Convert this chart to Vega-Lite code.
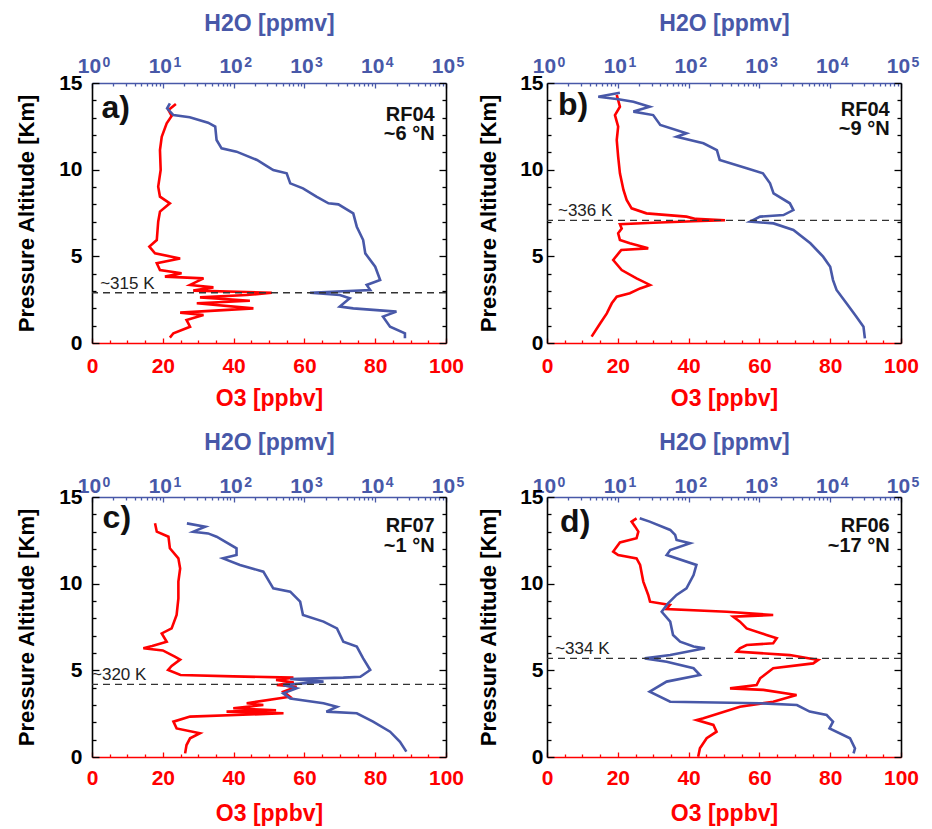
{
  "$schema": "https://vega.github.io/schema/vega-lite/v6.json",
  "autosize": {"type": "none"},
  "padding": {"left": 92, "top": 83, "right": 840, "bottom": 746},
  "background": "white",
  "config": {
    "view": {"stroke": null},
    "font": "Liberation Sans",
    "axis": {"grid": false, "domainWidth": 1.6, "tickWidth": 1.3, "labelFont": "Liberation Sans", "labelFontSize": 21, "labelFontWeight": "bold", "titleFont": "Liberation Sans", "titleFontSize": 23, "titleFontWeight": "bold", "labelFlush": false, "labelOverlap": false, "titleBaseline": "middle"},
    "axisBottom": {"domainColor": "#ff0000", "tickColor": "#ff0000", "labelColor": "#ff0000", "titleColor": "#ff0000"},
    "axisTop": {"domainColor": "#4858a8", "tickColor": "#4858a8", "labelColor": "#4858a8", "titleColor": "#4858a8"},
    "axisLeft": {"domainColor": "#000000", "tickColor": "#000000", "labelColor": "#000000", "titleColor": "#000000", "titleFontSize": 22},
    "axisRight": {"domainColor": "#000000", "tickColor": "#000000"}
  },
  "bounds": "flush",
  "columns": 2,
  "spacing": {"row": 154, "column": 101},
  "datasets": {
    "a": [
      {"s":"O3","alt":13.79,"v":23.7},{"s":"O3","alt":13.44,"v":21.6},{"s":"O3","alt":13.10,"v":22.5},{"s":"O3","alt":12.67,"v":21.1},{"s":"O3","alt":11.90,"v":19.7},{"s":"O3","alt":11.13,"v":19.2},{"s":"O3","alt":9.98,"v":19.4},{"s":"O3","alt":9.02,"v":18.7},{"s":"O3","alt":8.44,"v":19.2},{"s":"O3","alt":8.06,"v":22.0},{"s":"O3","alt":7.58,"v":19.2},{"s":"O3","alt":7.00,"v":18.7},{"s":"O3","alt":5.94,"v":18.3},{"s":"O3","alt":5.56,"v":16.2},{"s":"O3","alt":5.17,"v":17.8},{"s":"O3","alt":4.88,"v":24.9},{"s":"O3","alt":4.60,"v":18.3},{"s":"O3","alt":4.21,"v":19.2},{"s":"O3","alt":4.02,"v":25.3},{"s":"O3","alt":3.83,"v":20.6},{"s":"O3","alt":3.73,"v":31.5},{"s":"O3","alt":3.35,"v":27.7},{"s":"O3","alt":3.21,"v":34.3},{"s":"O3","alt":3.02,"v":28.6},{"s":"O3","alt":2.90,"v":50.8},{"s":"O3","alt":2.77,"v":43.7},{"s":"O3","alt":2.63,"v":30.5},{"s":"O3","alt":2.44,"v":44.6},{"s":"O3","alt":2.29,"v":29.6},{"s":"O3","alt":2.00,"v":45.6},{"s":"O3","alt":1.75,"v":24.9},{"s":"O3","alt":1.62,"v":31.5},{"s":"O3","alt":1.33,"v":26.7},{"s":"O3","alt":0.94,"v":27.7},{"s":"O3","alt":0.56,"v":23.0},{"s":"O3","alt":0.31,"v":22.0},
      {"s":"H2O","alt":13.83,"v":12.6},{"s":"H2O","alt":13.54,"v":11.5},{"s":"H2O","alt":13.15,"v":14.1},{"s":"H2O","alt":13.02,"v":24},{"s":"H2O","alt":12.71,"v":43.6},{"s":"H2O","alt":12.48,"v":55},{"s":"H2O","alt":11.71,"v":57.5},{"s":"H2O","alt":11.23,"v":67.6},{"s":"H2O","alt":11.04,"v":110},{"s":"H2O","alt":10.56,"v":214},{"s":"H2O","alt":10.21,"v":295},{"s":"H2O","alt":9.98,"v":363},{"s":"H2O","alt":9.79,"v":562},{"s":"H2O","alt":9.21,"v":631},{"s":"H2O","alt":8.92,"v":955},{"s":"H2O","alt":8.44,"v":1479},{"s":"H2O","alt":8.06,"v":2188},{"s":"H2O","alt":8.0,"v":3020},{"s":"H2O","alt":7.48,"v":4898},{"s":"H2O","alt":6.71,"v":5495},{"s":"H2O","alt":5.94,"v":6761},{"s":"H2O","alt":5.17,"v":7244},{"s":"H2O","alt":4.40,"v":10000},{"s":"H2O","alt":3.63,"v":11750},{"s":"H2O","alt":3.35,"v":7586},{"s":"H2O","alt":3.06,"v":8511},{"s":"H2O","alt":2.90,"v":1202},{"s":"H2O","alt":2.77,"v":3162},{"s":"H2O","alt":2.58,"v":4365},{"s":"H2O","alt":2.10,"v":3162},{"s":"H2O","alt":2.00,"v":4898},{"s":"H2O","alt":1.81,"v":19950},{"s":"H2O","alt":1.52,"v":12880},{"s":"H2O","alt":0.94,"v":16220},{"s":"H2O","alt":0.56,"v":26300},{"s":"H2O","alt":0.27,"v":26300}
    ],
    "b": [
      {"s":"O3","alt":14.31,"v":19.7},{"s":"O3","alt":13.63,"v":20.6},{"s":"O3","alt":13.15,"v":19.2},{"s":"O3","alt":12.48,"v":20.1},{"s":"O3","alt":11.71,"v":19.7},{"s":"O3","alt":10.75,"v":20.1},{"s":"O3","alt":9.79,"v":20.6},{"s":"O3","alt":8.83,"v":21.6},{"s":"O3","alt":8.25,"v":22.5},{"s":"O3","alt":7.77,"v":23.9},{"s":"O3","alt":7.48,"v":28.1},{"s":"O3","alt":7.29,"v":39.4},{"s":"O3","alt":7.16,"v":42},{"s":"O3","alt":7.08,"v":50.3},{"s":"O3","alt":7.02,"v":41.3},{"s":"O3","alt":6.94,"v":30},{"s":"O3","alt":6.85,"v":20.6},{"s":"O3","alt":6.60,"v":21.1},{"s":"O3","alt":6.33,"v":20.1},{"s":"O3","alt":5.94,"v":20.6},{"s":"O3","alt":5.75,"v":23.4},{"s":"O3","alt":5.46,"v":28.6},{"s":"O3","alt":5.37,"v":21},{"s":"O3","alt":5.27,"v":20.6},{"s":"O3","alt":4.79,"v":18.7},{"s":"O3","alt":4.21,"v":21.1},{"s":"O3","alt":3.73,"v":25.3},{"s":"O3","alt":3.35,"v":29.1},{"s":"O3","alt":3.15,"v":26.3},{"s":"O3","alt":2.87,"v":23.4},{"s":"O3","alt":2.67,"v":19.7},{"s":"O3","alt":2.29,"v":18.3},{"s":"O3","alt":1.71,"v":16.9},{"s":"O3","alt":1.13,"v":15.0},{"s":"O3","alt":0.37,"v":12.6},
      {"s":"H2O","alt":14.44,"v":10.7},{"s":"H2O","alt":14.21,"v":5.3},{"s":"H2O","alt":14.06,"v":10.2},{"s":"H2O","alt":13.92,"v":16.6},{"s":"H2O","alt":13.63,"v":28.2},{"s":"H2O","alt":13.35,"v":16.6},{"s":"H2O","alt":13.15,"v":31.6},{"s":"H2O","alt":12.58,"v":39.8},{"s":"H2O","alt":12.10,"v":93.3},{"s":"H2O","alt":11.90,"v":67.6},{"s":"H2O","alt":11.52,"v":162},{"s":"H2O","alt":11.13,"v":251},{"s":"H2O","alt":10.56,"v":275},{"s":"H2O","alt":10.08,"v":661},{"s":"H2O","alt":9.79,"v":1122},{"s":"H2O","alt":9.21,"v":1413},{"s":"H2O","alt":8.63,"v":1585},{"s":"H2O","alt":8.06,"v":2692},{"s":"H2O","alt":7.67,"v":3020},{"s":"H2O","alt":7.38,"v":2188},{"s":"H2O","alt":7.29,"v":1023},{"s":"H2O","alt":7.0,"v":741},{"s":"H2O","alt":6.90,"v":1585},{"s":"H2O","alt":6.52,"v":3020},{"s":"H2O","alt":5.75,"v":5248},{"s":"H2O","alt":4.98,"v":7943},{"s":"H2O","alt":4.40,"v":10000},{"s":"H2O","alt":3.63,"v":10960},{"s":"H2O","alt":3.06,"v":12300},{"s":"H2O","alt":2.29,"v":16980},{"s":"H2O","alt":1.52,"v":23440},{"s":"H2O","alt":0.94,"v":29510},{"s":"H2O","alt":0.27,"v":30900}
    ],
    "c": [
      {"s":"O3","alt":13.48,"v":17.8},{"s":"O3","alt":13.0,"v":18.3},{"s":"O3","alt":12.71,"v":21.6},{"s":"O3","alt":12.04,"v":22.0},{"s":"O3","alt":11.46,"v":24.4},{"s":"O3","alt":10.88,"v":24.9},{"s":"O3","alt":10.12,"v":24.4},{"s":"O3","alt":9.15,"v":24.4},{"s":"O3","alt":8.19,"v":23.9},{"s":"O3","alt":7.42,"v":22.5},{"s":"O3","alt":7.13,"v":19.7},{"s":"O3","alt":6.65,"v":21.1},{"s":"O3","alt":6.40,"v":17},{"s":"O3","alt":6.27,"v":14.5},{"s":"O3","alt":6.15,"v":20},{"s":"O3","alt":5.79,"v":23.4},{"s":"O3","alt":5.62,"v":24.9},{"s":"O3","alt":5.25,"v":22.5},{"s":"O3","alt":5.02,"v":21.5},{"s":"O3","alt":4.73,"v":25},{"s":"O3","alt":4.65,"v":40},{"s":"O3","alt":4.58,"v":56.9},{"s":"O3","alt":4.45,"v":52},{"s":"O3","alt":4.30,"v":57},{"s":"O3","alt":4.15,"v":52.2},{"s":"O3","alt":4.05,"v":57.8},{"s":"O3","alt":3.77,"v":54.1},{"s":"O3","alt":3.48,"v":55.9},{"s":"O3","alt":3.10,"v":43.7},{"s":"O3","alt":3.0,"v":48.4},{"s":"O3","alt":2.81,"v":39.9},{"s":"O3","alt":2.70,"v":52},{"s":"O3","alt":2.62,"v":38.0},{"s":"O3","alt":2.52,"v":54.1},{"s":"O3","alt":2.33,"v":27.7},{"s":"O3","alt":2.04,"v":23.0},{"s":"O3","alt":1.65,"v":23.9},{"s":"O3","alt":1.37,"v":30.5},{"s":"O3","alt":1.08,"v":27.7},{"s":"O3","alt":0.69,"v":26.7},{"s":"O3","alt":0.21,"v":26.3},
      {"s":"H2O","alt":13.48,"v":21.9},{"s":"H2O","alt":13.29,"v":39.8},{"s":"H2O","alt":13.0,"v":26.9},{"s":"H2O","alt":12.90,"v":43.6},{"s":"H2O","alt":12.71,"v":57.5},{"s":"H2O","alt":12.04,"v":110},{"s":"H2O","alt":11.65,"v":110},{"s":"H2O","alt":11.46,"v":70.8},{"s":"H2O","alt":11.08,"v":123},{"s":"H2O","alt":10.69,"v":263},{"s":"H2O","alt":9.73,"v":363},{"s":"H2O","alt":9.54,"v":631},{"s":"H2O","alt":8.96,"v":871},{"s":"H2O","alt":8.19,"v":955},{"s":"H2O","alt":7.81,"v":1862},{"s":"H2O","alt":7.42,"v":2884},{"s":"H2O","alt":6.65,"v":3548},{"s":"H2O","alt":6.37,"v":5495},{"s":"H2O","alt":5.69,"v":6761},{"s":"H2O","alt":5.02,"v":8511},{"s":"H2O","alt":4.63,"v":6166},{"s":"H2O","alt":4.58,"v":3548},{"s":"H2O","alt":4.50,"v":631},{"s":"H2O","alt":4.35,"v":1862},{"s":"H2O","alt":4.15,"v":501},{"s":"H2O","alt":3.96,"v":776},{"s":"H2O","alt":3.67,"v":501},{"s":"H2O","alt":3.38,"v":631},{"s":"H2O","alt":3.10,"v":1862},{"s":"H2O","alt":2.90,"v":2884},{"s":"H2O","alt":2.62,"v":2042},{"s":"H2O","alt":2.52,"v":5495},{"s":"H2O","alt":2.04,"v":9333},{"s":"H2O","alt":1.46,"v":16220},{"s":"H2O","alt":0.88,"v":22390},{"s":"H2O","alt":0.31,"v":27540}
    ],
    "d": [
      {"s":"O3","alt":13.77,"v":25.3},{"s":"O3","alt":13.58,"v":23.9},{"s":"O3","alt":13.29,"v":24.9},{"s":"O3","alt":13.0,"v":25.8},{"s":"O3","alt":12.62,"v":25.3},{"s":"O3","alt":12.38,"v":20.6},{"s":"O3","alt":11.85,"v":18.7},{"s":"O3","alt":11.65,"v":20.1},{"s":"O3","alt":11.46,"v":25.3},{"s":"O3","alt":11.08,"v":26.3},{"s":"O3","alt":10.12,"v":27.2},{"s":"O3","alt":9.35,"v":28.6},{"s":"O3","alt":8.96,"v":29.1},{"s":"O3","alt":8.77,"v":34.7},{"s":"O3","alt":8.54,"v":33.8},{"s":"O3","alt":8.38,"v":50.8},{"s":"O3","alt":8.19,"v":63.9},{"s":"O3","alt":8.10,"v":52.6},{"s":"O3","alt":7.81,"v":54.5},{"s":"O3","alt":7.42,"v":56.4},{"s":"O3","alt":7.04,"v":62.0},{"s":"O3","alt":6.85,"v":64.9},{"s":"O3","alt":6.56,"v":63.9},{"s":"O3","alt":6.46,"v":56.4},{"s":"O3","alt":6.27,"v":54.5},{"s":"O3","alt":6.08,"v":53.6},{"s":"O3","alt":5.88,"v":68.6},{"s":"O3","alt":5.60,"v":76.6},{"s":"O3","alt":5.40,"v":75.2},{"s":"O3","alt":5.12,"v":63.9},{"s":"O3","alt":4.54,"v":60.2},{"s":"O3","alt":4.15,"v":59.2},{"s":"O3","alt":3.96,"v":51.7},{"s":"O3","alt":3.87,"v":61.1},{"s":"O3","alt":3.58,"v":70.5},{"s":"O3","alt":3.19,"v":63.9},{"s":"O3","alt":2.90,"v":54.5},{"s":"O3","alt":2.23,"v":44.2},{"s":"O3","alt":2.13,"v":42.3},{"s":"O3","alt":1.85,"v":47.0},{"s":"O3","alt":1.46,"v":47.9},{"s":"O3","alt":1.08,"v":45.1},{"s":"O3","alt":0.50,"v":43.2},{"s":"O3","alt":0.02,"v":42.7},
      {"s":"H2O","alt":13.77,"v":20.4},{"s":"H2O","alt":13.58,"v":28.2},{"s":"H2O","alt":13.10,"v":55.0},{"s":"H2O","alt":12.81,"v":64.6},{"s":"H2O","alt":12.52,"v":67.6},{"s":"H2O","alt":12.33,"v":105},{"s":"H2O","alt":11.94,"v":55.0},{"s":"H2O","alt":11.65,"v":49.0},{"s":"H2O","alt":11.08,"v":129},{"s":"H2O","alt":10.50,"v":117.5},{"s":"H2O","alt":9.73,"v":93.3},{"s":"H2O","alt":9.35,"v":67.6},{"s":"H2O","alt":8.87,"v":51.3},{"s":"H2O","alt":8.38,"v":41.7},{"s":"H2O","alt":7.81,"v":55.0},{"s":"H2O","alt":7.04,"v":60.3},{"s":"H2O","alt":6.65,"v":75.9},{"s":"H2O","alt":6.37,"v":117.5},{"s":"H2O","alt":6.27,"v":170},{"s":"H2O","alt":5.88,"v":55.0},{"s":"H2O","alt":5.69,"v":24.0},{"s":"H2O","alt":5.50,"v":49.0},{"s":"H2O","alt":5.12,"v":117.5},{"s":"H2O","alt":4.73,"v":144.5},{"s":"H2O","alt":4.35,"v":49.0},{"s":"H2O","alt":3.77,"v":28.2},{"s":"H2O","alt":3.19,"v":55.0},{"s":"H2O","alt":3.10,"v":1023},{"s":"H2O","alt":3.0,"v":3388},{"s":"H2O","alt":2.62,"v":5129},{"s":"H2O","alt":2.42,"v":8913},{"s":"H2O","alt":2.04,"v":10960},{"s":"H2O","alt":1.65,"v":9772},{"s":"H2O","alt":1.08,"v":19050},{"s":"H2O","alt":0.50,"v":22390},{"s":"H2O","alt":0.21,"v":21380}
    ]
  },
  "concat": [
    {
      "width": 354, "height": 260,
      "data": {"name": "a"},
      "layer": [
        {"transform": [{"filter": "datum.s === 'O3'"}, {"window": [{"op": "row_number", "as": "n"}]}],
         "mark": {"type": "line", "color": "#ff0000", "strokeWidth": 2.6},
         "encoding": {
           "x": {"field": "v", "type": "quantitative", "scale": {"domain": [0, 100], "nice": false, "zero": false}, "axis": {"orient": "bottom", "values": [0,20,40,60,80,100], "tickSize": -5, "labelPadding": 17, "title": "O3 [ppbv]", "titleY": 55}},
           "y": {"field": "alt", "type": "quantitative", "scale": {"domain": [0, 15], "nice": false, "zero": false}, "axis": {"orient": "left", "values": [0,5,10,15], "tickSize": -7, "labelPadding": 17, "title": "Pressure Altitude [Km]", "titleX": -66}},
           "order": {"field": "n", "type": "quantitative"}}},
        {"transform": [{"filter": "datum.s === 'H2O'"}, {"window": [{"op": "row_number", "as": "n"}]}],
         "mark": {"type": "line", "color": "#4858a8", "strokeWidth": 2.6},
         "encoding": {
           "x": {"field": "v", "type": "quantitative", "scale": {"type": "log", "domain": [1, 100000], "nice": false}, "axis": {"orient": "top", "values": [1,10,100,1000,10000,100000], "tickSize": -5, "labelPadding": 12, "labelOffset": -3, "labelExpr": "'10'", "title": "H2O [ppmv]", "titleY": -60}},
           "y": {"field": "alt", "type": "quantitative", "scale": {"domain": [0, 15], "nice": false, "zero": false}, "axis": {"orient": "right", "values": [0,5,10,15], "tickSize": -7, "labels": false, "title": null}},
           "order": {"field": "n", "type": "quantitative"}}},
        {"transform": [{"filter": "datum.s === 'O3'"}],
         "mark": {"type": "point", "opacity": 0},
         "encoding": {
           "x": {"field": "v", "type": "quantitative", "scale": {"domain": [0, 100], "nice": false, "zero": false}, "axis": {"orient": "bottom", "values": [5,10,15,25,30,35,45,50,55,65,70,75,85,90,95], "tickSize": -3, "labels": false, "domain": false, "title": null}},
           "y": {"field": "alt", "type": "quantitative", "scale": {"domain": [0, 15], "nice": false, "zero": false}, "axis": {"orient": "left", "values": [1,2,3,4,6,7,8,9,11,12,13,14], "tickSize": -4, "labels": false, "domain": false, "title": null}}}},
        {"transform": [{"filter": "datum.s === 'H2O'"}],
         "mark": {"type": "point", "opacity": 0},
         "encoding": {
           "x": {"field": "v", "type": "quantitative", "scale": {"type": "log", "domain": [1, 100000], "nice": false}, "axis": {"orient": "top", "values": [2,3,4,5,6,7,8,9,20,30,40,50,60,70,80,90,200,300,400,500,600,700,800,900,2000,3000,4000,5000,6000,7000,8000,9000,20000,30000,40000,50000,60000,70000,80000,90000], "tickSize": -3, "labels": false, "domain": false, "title": null}},
           "y": {"field": "alt", "type": "quantitative", "scale": {"domain": [0, 15], "nice": false, "zero": false}, "axis": {"orient": "right", "values": [1,2,3,4,6,7,8,9,11,12,13,14], "tickSize": -4, "labels": false, "domain": false, "title": null}}}},
        {"transform": [{"filter": "datum.s === 'H2O'"}],
         "mark": {"type": "point", "opacity": 0},
         "encoding": {
           "x": {"field": "v", "type": "quantitative", "scale": {"type": "log", "domain": [1, 100000], "nice": false}, "axis": {"orient": "top", "values": [1,10,100,1000,10000,100000], "ticks": false, "tickSize": 0, "domain": false, "labelPadding": 14, "labelOffset": 14, "labelFontSize": 14, "labelExpr": "'' + round(log(datum.value)/LN10)", "title": null}},
           "y": {"field": "alt", "type": "quantitative", "scale": {"domain": [0, 15], "nice": false, "zero": false}, "axis": null}}},
        {"data": {"values": [{"k": "~315 K"}]},
         "mark": {"type": "rule", "color": "#333333", "strokeDash": [7, 5], "strokeWidth": 1.3},
         "encoding": {"y": {"datum": 2.9, "type": "quantitative", "axis": null}}},
        {"data": {"values": [{"k": "~315 K"}]},
         "mark": {"type": "text", "align": "left", "baseline": "alphabetic", "dy": -4, "fontSize": 17, "color": "#222222", "font": "Liberation Sans"},
         "encoding": {"x": {"datum": 2.3, "type": "quantitative", "scale": {"domain": [0, 100], "nice": false, "zero": false}, "axis": null}, "y": {"datum": 2.9, "type": "quantitative", "axis": null}, "text": {"field": "k"}}},
        {"data": {"values": [{"k": "a)"}]},
         "mark": {"type": "text", "align": "left", "baseline": "middle", "fontSize": 32, "fontWeight": "bold", "color": "#111111", "font": "Liberation Sans"},
         "encoding": {"x": {"datum": 2.7, "type": "quantitative", "scale": {"domain": [0, 100], "nice": false, "zero": false}, "axis": null}, "y": {"datum": 13.56, "type": "quantitative", "axis": null}, "text": {"field": "k"}}},
        {"data": {"values": [{"k": "RF04\n~6 °N"}]},
         "mark": {"type": "text", "align": "right", "baseline": "middle", "lineBreak": "\n", "lineHeight": 19, "fontSize": 20, "fontWeight": "bold", "color": "#111111", "font": "Liberation Sans"},
         "encoding": {"x": {"datum": 96.8, "type": "quantitative", "scale": {"domain": [0, 100], "nice": false, "zero": false}, "axis": null}, "y": {"datum": 13.13, "type": "quantitative", "axis": null}, "text": {"field": "k"}}}
      ],
      "resolve": {"scale": {"x": "independent"}, "axis": {"x": "independent", "y": "independent"}}
    },
    {
      "width": 354, "height": 260,
      "data": {"name": "b"},
      "layer": [
        {"transform": [{"filter": "datum.s === 'O3'"}, {"window": [{"op": "row_number", "as": "n"}]}],
         "mark": {"type": "line", "color": "#ff0000", "strokeWidth": 2.6},
         "encoding": {
           "x": {"field": "v", "type": "quantitative", "scale": {"domain": [0, 100], "nice": false, "zero": false}, "axis": {"orient": "bottom", "values": [0,20,40,60,80,100], "tickSize": -5, "labelPadding": 17, "title": "O3 [ppbv]", "titleY": 55}},
           "y": {"field": "alt", "type": "quantitative", "scale": {"domain": [0, 15], "nice": false, "zero": false}, "axis": {"orient": "left", "values": [0,5,10,15], "tickSize": -7, "labelPadding": 11, "title": "Pressure Altitude [Km]", "titleX": -59}},
           "order": {"field": "n", "type": "quantitative"}}},
        {"transform": [{"filter": "datum.s === 'H2O'"}, {"window": [{"op": "row_number", "as": "n"}]}],
         "mark": {"type": "line", "color": "#4858a8", "strokeWidth": 2.6},
         "encoding": {
           "x": {"field": "v", "type": "quantitative", "scale": {"type": "log", "domain": [1, 100000], "nice": false}, "axis": {"orient": "top", "values": [1,10,100,1000,10000,100000], "tickSize": -5, "labelPadding": 12, "labelOffset": -3, "labelExpr": "'10'", "title": "H2O [ppmv]", "titleY": -60}},
           "y": {"field": "alt", "type": "quantitative", "scale": {"domain": [0, 15], "nice": false, "zero": false}, "axis": {"orient": "right", "values": [0,5,10,15], "tickSize": -7, "labels": false, "title": null}},
           "order": {"field": "n", "type": "quantitative"}}},
        {"transform": [{"filter": "datum.s === 'O3'"}],
         "mark": {"type": "point", "opacity": 0},
         "encoding": {
           "x": {"field": "v", "type": "quantitative", "scale": {"domain": [0, 100], "nice": false, "zero": false}, "axis": {"orient": "bottom", "values": [5,10,15,25,30,35,45,50,55,65,70,75,85,90,95], "tickSize": -3, "labels": false, "domain": false, "title": null}},
           "y": {"field": "alt", "type": "quantitative", "scale": {"domain": [0, 15], "nice": false, "zero": false}, "axis": {"orient": "left", "values": [1,2,3,4,6,7,8,9,11,12,13,14], "tickSize": -4, "labels": false, "domain": false, "title": null}}}},
        {"transform": [{"filter": "datum.s === 'H2O'"}],
         "mark": {"type": "point", "opacity": 0},
         "encoding": {
           "x": {"field": "v", "type": "quantitative", "scale": {"type": "log", "domain": [1, 100000], "nice": false}, "axis": {"orient": "top", "values": [2,3,4,5,6,7,8,9,20,30,40,50,60,70,80,90,200,300,400,500,600,700,800,900,2000,3000,4000,5000,6000,7000,8000,9000,20000,30000,40000,50000,60000,70000,80000,90000], "tickSize": -3, "labels": false, "domain": false, "title": null}},
           "y": {"field": "alt", "type": "quantitative", "scale": {"domain": [0, 15], "nice": false, "zero": false}, "axis": {"orient": "right", "values": [1,2,3,4,6,7,8,9,11,12,13,14], "tickSize": -4, "labels": false, "domain": false, "title": null}}}},
        {"transform": [{"filter": "datum.s === 'H2O'"}],
         "mark": {"type": "point", "opacity": 0},
         "encoding": {
           "x": {"field": "v", "type": "quantitative", "scale": {"type": "log", "domain": [1, 100000], "nice": false}, "axis": {"orient": "top", "values": [1,10,100,1000,10000,100000], "ticks": false, "tickSize": 0, "domain": false, "labelPadding": 14, "labelOffset": 14, "labelFontSize": 14, "labelExpr": "'' + round(log(datum.value)/LN10)", "title": null}},
           "y": {"field": "alt", "type": "quantitative", "scale": {"domain": [0, 15], "nice": false, "zero": false}, "axis": null}}},
        {"data": {"values": [{"k": "~336 K"}]},
         "mark": {"type": "rule", "color": "#333333", "strokeDash": [7, 5], "strokeWidth": 1.3},
         "encoding": {"y": {"datum": 7.08, "type": "quantitative", "axis": null}}},
        {"data": {"values": [{"k": "~336 K"}]},
         "mark": {"type": "text", "align": "left", "baseline": "alphabetic", "dy": -4, "fontSize": 17, "color": "#222222", "font": "Liberation Sans"},
         "encoding": {"x": {"datum": 3.1, "type": "quantitative", "scale": {"domain": [0, 100], "nice": false, "zero": false}, "axis": null}, "y": {"datum": 7.08, "type": "quantitative", "axis": null}, "text": {"field": "k"}}},
        {"data": {"values": [{"k": "b)"}]},
         "mark": {"type": "text", "align": "left", "baseline": "middle", "fontSize": 32, "fontWeight": "bold", "color": "#111111", "font": "Liberation Sans"},
         "encoding": {"x": {"datum": 3.1, "type": "quantitative", "scale": {"domain": [0, 100], "nice": false, "zero": false}, "axis": null}, "y": {"datum": 13.73, "type": "quantitative", "axis": null}, "text": {"field": "k"}}},
        {"data": {"values": [{"k": "RF04\n~9 °N"}]},
         "mark": {"type": "text", "align": "right", "baseline": "middle", "lineBreak": "\n", "lineHeight": 19, "fontSize": 20, "fontWeight": "bold", "color": "#111111", "font": "Liberation Sans"},
         "encoding": {"x": {"datum": 96.8, "type": "quantitative", "scale": {"domain": [0, 100], "nice": false, "zero": false}, "axis": null}, "y": {"datum": 13.44, "type": "quantitative", "axis": null}, "text": {"field": "k"}}}
      ],
      "resolve": {"scale": {"x": "independent"}, "axis": {"x": "independent", "y": "independent"}}
    },
    {
      "width": 354, "height": 260,
      "data": {"name": "c"},
      "layer": [
        {"transform": [{"filter": "datum.s === 'O3'"}, {"window": [{"op": "row_number", "as": "n"}]}],
         "mark": {"type": "line", "color": "#ff0000", "strokeWidth": 2.6},
         "encoding": {
           "x": {"field": "v", "type": "quantitative", "scale": {"domain": [0, 100], "nice": false, "zero": false}, "axis": {"orient": "bottom", "values": [0,20,40,60,80,100], "tickSize": -5, "labelPadding": 15.5, "title": "O3 [ppbv]", "titleY": 56}},
           "y": {"field": "alt", "type": "quantitative", "scale": {"domain": [0, 15], "nice": false, "zero": false}, "axis": {"orient": "left", "values": [0,5,10,15], "tickSize": -7, "labelPadding": 17, "title": "Pressure Altitude [Km]", "titleX": -66}},
           "order": {"field": "n", "type": "quantitative"}}},
        {"transform": [{"filter": "datum.s === 'H2O'"}, {"window": [{"op": "row_number", "as": "n"}]}],
         "mark": {"type": "line", "color": "#4858a8", "strokeWidth": 2.6},
         "encoding": {
           "x": {"field": "v", "type": "quantitative", "scale": {"type": "log", "domain": [1, 100000], "nice": false}, "axis": {"orient": "top", "values": [1,10,100,1000,10000,100000], "tickSize": -5, "labelPadding": 6, "labelOffset": -3, "labelExpr": "'10'", "title": "H2O [ppmv]", "titleY": -55}},
           "y": {"field": "alt", "type": "quantitative", "scale": {"domain": [0, 15], "nice": false, "zero": false}, "axis": {"orient": "right", "values": [0,5,10,15], "tickSize": -7, "labels": false, "title": null}},
           "order": {"field": "n", "type": "quantitative"}}},
        {"transform": [{"filter": "datum.s === 'O3'"}],
         "mark": {"type": "point", "opacity": 0},
         "encoding": {
           "x": {"field": "v", "type": "quantitative", "scale": {"domain": [0, 100], "nice": false, "zero": false}, "axis": {"orient": "bottom", "values": [5,10,15,25,30,35,45,50,55,65,70,75,85,90,95], "tickSize": -3, "labels": false, "domain": false, "title": null}},
           "y": {"field": "alt", "type": "quantitative", "scale": {"domain": [0, 15], "nice": false, "zero": false}, "axis": {"orient": "left", "values": [1,2,3,4,6,7,8,9,11,12,13,14], "tickSize": -4, "labels": false, "domain": false, "title": null}}}},
        {"transform": [{"filter": "datum.s === 'H2O'"}],
         "mark": {"type": "point", "opacity": 0},
         "encoding": {
           "x": {"field": "v", "type": "quantitative", "scale": {"type": "log", "domain": [1, 100000], "nice": false}, "axis": {"orient": "top", "values": [2,3,4,5,6,7,8,9,20,30,40,50,60,70,80,90,200,300,400,500,600,700,800,900,2000,3000,4000,5000,6000,7000,8000,9000,20000,30000,40000,50000,60000,70000,80000,90000], "tickSize": -3, "labels": false, "domain": false, "title": null}},
           "y": {"field": "alt", "type": "quantitative", "scale": {"domain": [0, 15], "nice": false, "zero": false}, "axis": {"orient": "right", "values": [1,2,3,4,6,7,8,9,11,12,13,14], "tickSize": -4, "labels": false, "domain": false, "title": null}}}},
        {"transform": [{"filter": "datum.s === 'H2O'"}],
         "mark": {"type": "point", "opacity": 0},
         "encoding": {
           "x": {"field": "v", "type": "quantitative", "scale": {"type": "log", "domain": [1, 100000], "nice": false}, "axis": {"orient": "top", "values": [1,10,100,1000,10000,100000], "ticks": false, "tickSize": 0, "domain": false, "labelPadding": 8, "labelOffset": 14, "labelFontSize": 14, "labelExpr": "'' + round(log(datum.value)/LN10)", "title": null}},
           "y": {"field": "alt", "type": "quantitative", "scale": {"domain": [0, 15], "nice": false, "zero": false}, "axis": null}}},
        {"data": {"values": [{"k": "~320 K"}]},
         "mark": {"type": "rule", "color": "#333333", "strokeDash": [7, 5], "strokeWidth": 1.3},
         "encoding": {"y": {"datum": 4.19, "type": "quantitative", "axis": null}}},
        {"data": {"values": [{"k": "~320 K"}]},
         "mark": {"type": "text", "align": "left", "baseline": "alphabetic", "dy": -4, "fontSize": 17, "color": "#222222", "font": "Liberation Sans"},
         "encoding": {"x": {"datum": 0, "type": "quantitative", "scale": {"domain": [0, 100], "nice": false, "zero": false}, "axis": null}, "y": {"datum": 4.19, "type": "quantitative", "axis": null}, "text": {"field": "k"}}},
        {"data": {"values": [{"k": "c)"}]},
         "mark": {"type": "text", "align": "left", "baseline": "middle", "fontSize": 32, "fontWeight": "bold", "color": "#111111", "font": "Liberation Sans"},
         "encoding": {"x": {"datum": 3.0, "type": "quantitative", "scale": {"domain": [0, 100], "nice": false, "zero": false}, "axis": null}, "y": {"datum": 13.77, "type": "quantitative", "axis": null}, "text": {"field": "k"}}},
        {"data": {"values": [{"k": "RF07\n~1 °N"}]},
         "mark": {"type": "text", "align": "right", "baseline": "middle", "lineBreak": "\n", "lineHeight": 20, "fontSize": 20, "fontWeight": "bold", "color": "#111111", "font": "Liberation Sans"},
         "encoding": {"x": {"datum": 96.8, "type": "quantitative", "scale": {"domain": [0, 100], "nice": false, "zero": false}, "axis": null}, "y": {"datum": 13.30, "type": "quantitative", "axis": null}, "text": {"field": "k"}}}
      ],
      "resolve": {"scale": {"x": "independent"}, "axis": {"x": "independent", "y": "independent"}}
    },
    {
      "width": 354, "height": 260,
      "data": {"name": "d"},
      "layer": [
        {"transform": [{"filter": "datum.s === 'O3'"}, {"window": [{"op": "row_number", "as": "n"}]}],
         "mark": {"type": "line", "color": "#ff0000", "strokeWidth": 2.6},
         "encoding": {
           "x": {"field": "v", "type": "quantitative", "scale": {"domain": [0, 100], "nice": false, "zero": false}, "axis": {"orient": "bottom", "values": [0,20,40,60,80,100], "tickSize": -5, "labelPadding": 15.5, "title": "O3 [ppbv]", "titleY": 56}},
           "y": {"field": "alt", "type": "quantitative", "scale": {"domain": [0, 15], "nice": false, "zero": false}, "axis": {"orient": "left", "values": [0,5,10,15], "tickSize": -7, "labelPadding": 11, "title": "Pressure Altitude [Km]", "titleX": -59}},
           "order": {"field": "n", "type": "quantitative"}}},
        {"transform": [{"filter": "datum.s === 'H2O'"}, {"window": [{"op": "row_number", "as": "n"}]}],
         "mark": {"type": "line", "color": "#4858a8", "strokeWidth": 2.6},
         "encoding": {
           "x": {"field": "v", "type": "quantitative", "scale": {"type": "log", "domain": [1, 100000], "nice": false}, "axis": {"orient": "top", "values": [1,10,100,1000,10000,100000], "tickSize": -5, "labelPadding": 6, "labelOffset": -3, "labelExpr": "'10'", "title": "H2O [ppmv]", "titleY": -55}},
           "y": {"field": "alt", "type": "quantitative", "scale": {"domain": [0, 15], "nice": false, "zero": false}, "axis": {"orient": "right", "values": [0,5,10,15], "tickSize": -7, "labels": false, "title": null}},
           "order": {"field": "n", "type": "quantitative"}}},
        {"transform": [{"filter": "datum.s === 'O3'"}],
         "mark": {"type": "point", "opacity": 0},
         "encoding": {
           "x": {"field": "v", "type": "quantitative", "scale": {"domain": [0, 100], "nice": false, "zero": false}, "axis": {"orient": "bottom", "values": [5,10,15,25,30,35,45,50,55,65,70,75,85,90,95], "tickSize": -3, "labels": false, "domain": false, "title": null}},
           "y": {"field": "alt", "type": "quantitative", "scale": {"domain": [0, 15], "nice": false, "zero": false}, "axis": {"orient": "left", "values": [1,2,3,4,6,7,8,9,11,12,13,14], "tickSize": -4, "labels": false, "domain": false, "title": null}}}},
        {"transform": [{"filter": "datum.s === 'H2O'"}],
         "mark": {"type": "point", "opacity": 0},
         "encoding": {
           "x": {"field": "v", "type": "quantitative", "scale": {"type": "log", "domain": [1, 100000], "nice": false}, "axis": {"orient": "top", "values": [2,3,4,5,6,7,8,9,20,30,40,50,60,70,80,90,200,300,400,500,600,700,800,900,2000,3000,4000,5000,6000,7000,8000,9000,20000,30000,40000,50000,60000,70000,80000,90000], "tickSize": -3, "labels": false, "domain": false, "title": null}},
           "y": {"field": "alt", "type": "quantitative", "scale": {"domain": [0, 15], "nice": false, "zero": false}, "axis": {"orient": "right", "values": [1,2,3,4,6,7,8,9,11,12,13,14], "tickSize": -4, "labels": false, "domain": false, "title": null}}}},
        {"transform": [{"filter": "datum.s === 'H2O'"}],
         "mark": {"type": "point", "opacity": 0},
         "encoding": {
           "x": {"field": "v", "type": "quantitative", "scale": {"type": "log", "domain": [1, 100000], "nice": false}, "axis": {"orient": "top", "values": [1,10,100,1000,10000,100000], "ticks": false, "tickSize": 0, "domain": false, "labelPadding": 8, "labelOffset": 14, "labelFontSize": 14, "labelExpr": "'' + round(log(datum.value)/LN10)", "title": null}},
           "y": {"field": "alt", "type": "quantitative", "scale": {"domain": [0, 15], "nice": false, "zero": false}, "axis": null}}},
        {"data": {"values": [{"k": "~334 K"}]},
         "mark": {"type": "rule", "color": "#333333", "strokeDash": [7, 5], "strokeWidth": 1.3},
         "encoding": {"y": {"datum": 5.69, "type": "quantitative", "axis": null}}},
        {"data": {"values": [{"k": "~334 K"}]},
         "mark": {"type": "text", "align": "left", "baseline": "alphabetic", "dy": -4, "fontSize": 17, "color": "#222222", "font": "Liberation Sans"},
         "encoding": {"x": {"datum": 2.3, "type": "quantitative", "scale": {"domain": [0, 100], "nice": false, "zero": false}, "axis": null}, "y": {"datum": 5.69, "type": "quantitative", "axis": null}, "text": {"field": "k"}}},
        {"data": {"values": [{"k": "d)"}]},
         "mark": {"type": "text", "align": "left", "baseline": "middle", "fontSize": 32, "fontWeight": "bold", "color": "#111111", "font": "Liberation Sans"},
         "encoding": {"x": {"datum": 3.7, "type": "quantitative", "scale": {"domain": [0, 100], "nice": false, "zero": false}, "axis": null}, "y": {"datum": 13.58, "type": "quantitative", "axis": null}, "text": {"field": "k"}}},
        {"data": {"values": [{"k": "RF06\n~17 °N"}]},
         "mark": {"type": "text", "align": "right", "baseline": "middle", "lineBreak": "\n", "lineHeight": 20, "fontSize": 20, "fontWeight": "bold", "color": "#111111", "font": "Liberation Sans"},
         "encoding": {"x": {"datum": 96.8, "type": "quantitative", "scale": {"domain": [0, 100], "nice": false, "zero": false}, "axis": null}, "y": {"datum": 13.30, "type": "quantitative", "axis": null}, "text": {"field": "k"}}}
      ],
      "resolve": {"scale": {"x": "independent"}, "axis": {"x": "independent", "y": "independent"}}
    }
  ]
}
